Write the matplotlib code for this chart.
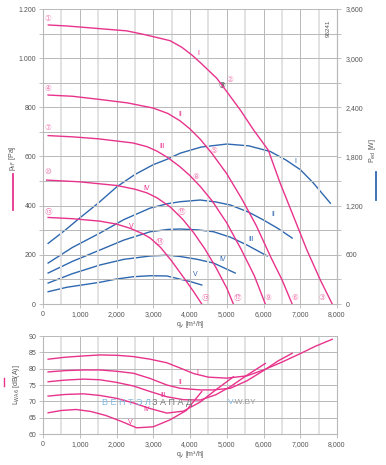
import numpy as np
import matplotlib
matplotlib.use("Agg")
from matplotlib import pyplot as plt

plt.rcParams["font.family"] = ["Liberation Sans", "DejaVu Sans", "Noto Sans CJK JP"]

PINK = "#e8338c"
PINK_LIGHT = "#f080b4"
BLUE = "#2f68b0"
GRID = "#b8b8b8"
GRID_LIGHT = "#e2e2e2"
TXT = "#555555"

# pressure curves p_sF [Pa] vs q_v [m3/h]
q_p1 = [145, 645, 1550, 2280, 2730, 3100, 3460, 3780, 4050, 4280, 4730, 5000, 5370, 5730,
        6130, 6455, 6820, 7180, 7545, 7870]
p_1 = [1135, 1131, 1120, 1111, 1097, 1084, 1071, 1044, 1013, 982, 918, 864, 789, 708,
       626, 491, 355, 220, 98, 0]
q_p2 = [140, 800, 1550, 2300, 3000, 3400, 3730, 4000, 4280, 4600, 5000, 5400, 5800, 6200, 6500, 6780]
p_2 = [850, 845, 832, 818, 797, 775, 745, 712, 670, 612, 530, 430, 320, 190, 100, 0]
q_p3 = [140, 800, 1500, 2450, 2830, 3100, 3400, 3730, 4000, 4280, 4600, 5000, 5400, 5750, 6050]
p_3 = [685, 680, 672, 655, 640, 622, 595, 558, 522, 478, 420, 330, 220, 115, 0]
q_p4 = [100, 1000, 2010, 2500, 2830, 3100, 3460, 3800, 4100, 4400, 4700, 5000, 5180]
p_4 = [504, 497, 482, 467, 452, 432, 395, 345, 290, 225, 150, 65, 0]
q_p5 = [140, 800, 1550, 2000, 2370, 2700, 2920, 3200, 3500, 3840, 4100, 4320]
p_5 = [352, 347, 337, 325, 308, 287, 268, 230, 175, 105, 50, 0]

# power curves P_ed [W]
q_w1 = [140, 600, 1000, 1500, 2010, 2500, 3000, 3370, 3730, 4300, 5000, 5600, 6190, 6600,
        7000, 7360, 7820]
w_1 = [740, 900, 1050, 1230, 1431, 1580, 1700, 1765, 1840, 1915, 1952, 1930, 1860, 1760,
       1640, 1475, 1230]
q_w2 = [140, 800, 1550, 2200, 2920, 3400, 3730, 4280, 4700, 5100, 5600, 6000, 6400, 6780]
w_2 = [500, 690, 866, 1030, 1171, 1225, 1248, 1269, 1245, 1208, 1120, 1025, 920, 805]
q_w3 = [140, 800, 1550, 2200, 2920, 3400, 3730, 4200, 4640, 5100, 5550, 6100]
w_3 = [378, 520, 659, 780, 882, 910, 915, 905, 882, 815, 720, 586]
q_w4 = [140, 800, 1550, 2200, 2920, 3370, 3730, 4200, 4640, 5230]
w_4 = [256, 370, 476, 545, 586, 595, 580, 545, 500, 378]
q_w5 = [140, 645, 1550, 2000, 2460, 2915, 3370, 3730, 4000, 4320]
w_5 = [150, 204, 265, 305, 333, 345, 342, 303, 275, 232]

# sound power L_WA6 [dB(A)]
q_s1 = [140, 600, 1100, 1550, 2010, 2460, 2915, 3370, 3730, 4100, 4500, 5000, 5550, 6000,
        6500, 7000, 7400, 7870]
s_1 = [82.9, 83.5, 83.9, 84.2, 84.1, 83.7, 82.9, 81.8, 80.2, 78.5, 77.4, 77.1, 77.8, 79.6,
       82.0, 84.6, 86.8, 89.0]
q_s2 = [140, 600, 1100, 1550, 2000, 2460, 2915, 3370, 3730, 4280, 4640, 5100, 5550, 6000, 6400, 6780]
s_2 = [79.0, 79.4, 79.6, 79.6, 79.2, 78.6, 77.0, 75.0, 74.0, 73.5, 73.5, 74.0, 76.3, 79.4, 82.4, 84.7]
q_s3 = [140, 600, 1100, 1550, 2000, 2460, 2915, 3370, 3820, 4280, 4700, 5100, 5550, 6050]
s_3 = [76.0, 76.5, 76.8, 76.6, 75.8, 74.7, 73.0, 71.4, 70.5, 70.4, 72.0, 74.5, 78.0, 81.6]
q_s4 = [140, 600, 1100, 1550, 2010, 2460, 2915, 3370, 3820, 4280, 4700, 5180]
s_4 = [71.6, 72.1, 72.3, 71.8, 70.9, 69.5, 67.8, 66.4, 67.0, 69.8, 73.5, 77.5]
q_s5 = [140, 500, 900, 1300, 1700, 2100, 2550, 3000, 3450, 3900, 4320]
s_5 = [66.5, 67.2, 67.5, 66.9, 65.7, 64.0, 61.9, 62.2, 64.3, 67.2, 73.0]

roman = ["I", "II", "III", "IV", "V"]
circled = ["\u2460", "\u2461", "\u2462", "\u2463", "\u2464", "\u2465", "\u2466", "\u2467",
           "\u2468", "\u2469", "\u246a", "\u246b", "\u246c", "\u246d", "\u246e"]

fig = plt.figure(figsize=(3.86, 4.65), dpi=100)
W, H = 386, 465


def box(x0, y0, x1, y1):
    return [x0 / W, 1 - y1 / H, (x1 - x0) / W, (y1 - y0) / H]


def style_grid(ax, ymax, ystep):
    for x in range(500, 8000, 1000):
        ax.axvline(x, color=GRID_LIGHT, lw=1.4, zorder=0)
    for x in range(1000, 8001, 1000):
        ax.axvline(x, color=GRID, lw=0.7, zorder=0)
    for y in np.arange(ystep[0], ymax + 0.01, ystep[1]):
        ax.axhline(y, color=GRID, lw=0.7, zorder=0)
    ax.spines["top"].set_visible(False)
    for s in ["left", "right", "bottom"]:
        ax.spines[s].set_color(GRID)
        ax.spines[s].set_linewidth(0.8)
    ax.tick_params(colors=TXT, labelsize=5, length=3, width=0.6, pad=2)
    ax.tick_params(axis="both", color=GRID)
    ax.set_xlim(0, 8000)
    ax.set_xticks(range(0, 8001, 1000))
    ax.set_xticklabels(["0"] + [f"{v:,}" for v in range(1000, 8001, 1000)])


# ---- top chart
ax = fig.add_axes(box(43, 9, 337, 304))
style_grid(ax, 1200, (100, 100))
ax.set_ylim(0, 1200)
ax.set_yticks(range(0, 1201, 100))
ax.set_yticklabels([f"{v:,}".replace(",", ".") if v % 200 == 0 else "" for v in range(0, 1201, 100)])

ax2 = ax.twinx()
ax2.set_ylim(0, 3600)
ax2.set_yticks(range(0, 3601, 300))
ax2.set_yticklabels([f"{v:,}" if v % 600 == 0 else "" for v in range(0, 3601, 300)])
for s in ["top", "left", "bottom"]:
    ax2.spines[s].set_visible(False)
ax2.spines["right"].set_color(GRID)
ax2.tick_params(colors=TXT, labelsize=5, length=3, width=0.6, pad=3)
ax2.tick_params(axis="y", color=GRID)

for q, w in [(q_w1, w_1), (q_w2, w_2), (q_w3, w_3), (q_w4, w_4), (q_w5, w_5)]:
    ax2.plot(q, w, color=BLUE, lw=1.0, zorder=3, solid_joinstyle="round")
for q, p in [(q_p1, p_1), (q_p2, p_2), (q_p3, p_3), (q_p4, p_4), (q_p5, p_5)]:
    ax.plot(q, p, color=PINK, lw=1.0, zorder=4, solid_joinstyle="round")
ax.set_zorder(ax2.get_zorder() + 1)
ax.patch.set_visible(False)

pink_lab = [(4220, 1021), (3730, 769), (3240, 639), (2830, 468), (2400, 317)]
blue_lab = [(6860, 578), (6270, 366), (5670, 264), (4880, 179), (4140, 122)]
for r, (x, y) in zip(roman, pink_lab):
    ax.text(x, y, r, color=PINK, fontsize=5, ha="center", va="center")
for r, (x, y) in zip(roman, blue_lab):
    ax.text(x, y, r, color=BLUE, fontsize=5, ha="center", va="center")

num_pos = [(140, 1163), (5090, 915), (7600, 28),
           (140, 875), (4660, 626), (6860, 28),
           (140, 716), (4170, 517), (6130, 28),
           (140, 540), (3760, 378), (5285, 28),
           (140, 378), (3160, 256), (4410, 28)]
for c, (x, y) in zip(circled, num_pos):
    ax.text(x, y, c, color=PINK_LIGHT, fontsize=5.5, ha="center", va="center",
            family=["DejaVu Sans", "Noto Sans CJK JP"])
ax.text(4880, 887, "\u2462", color="#333333", fontsize=5.5, ha="center", va="center",
        family=["DejaVu Sans", "Noto Sans CJK JP"])
ax.text(7750, 1120, "96241", color=TXT, fontsize=4.5, rotation=90, ha="center", va="center")
ax.set_xlabel("q$_{\\rm v}$ [m³/h]", fontsize=5, color=TXT, labelpad=1)

fig.text(12 / W, 1 - 158 / H, "p$_{\\rm sF}$ [Pa]", rotation=90, fontsize=5, color=TXT,
         ha="center", va="center")
fig.add_artist(plt.Line2D([13 / W, 13 / W], [1 - 174 / H, 1 - 210 / H], color=PINK, lw=1.3))
fig.text(372 / W, 1 - 150 / H, "P$_{\\rm ed}$ [W]", rotation=90, fontsize=5, color=TXT,
         ha="center", va="center")
fig.add_artist(plt.Line2D([376 / W, 376 / W], [1 - 172 / H, 1 - 200 / H], color=BLUE, lw=1.3))

# ---- bottom chart
bx = fig.add_axes(box(43, 336, 337, 434))
style_grid(bx, 90, (60, 5))
bx.set_ylim(60, 90)
bx.set_yticks(range(60, 91, 5))
for q, s in [(q_s1, s_1), (q_s2, s_2), (q_s3, s_3), (q_s4, s_4), (q_s5, s_5)]:
    bx.plot(q, s, color=PINK, lw=1.0, zorder=4, solid_joinstyle="round")
snd_lab = [(4190, 78.9), (3730, 75.8), (3270, 71.8), (2830, 67.4), (2370, 63.4)]
for r, (x, y) in zip(roman, snd_lab):
    bx.text(x, y, r, color=PINK, fontsize=5, ha="center", va="center")
bx.set_xlabel("q$_{\\rm v}$ [m³/h]", fontsize=5, color=TXT, labelpad=1)
fig.text(17 / W, 1 - 385 / H, "L$_{\\rm WA6}$ [dB(A)]", rotation=90, fontsize=5, color=TXT,
         ha="center", va="center")
fig.add_artist(plt.Line2D([4 / W, 4 / W], [1 - 378 / H, 1 - 386 / H], color=PINK, lw=1.0))

# watermark
fig.text(102 / W, 1 - 402 / H, "В Е Н Т Э Л", color="#7fb7e0", fontsize=6.5, ha="left", va="center")
fig.text(152 / W, 1 - 402 / H, "З А П А Д", color="#777777", fontsize=6.5, ha="left", va="center")
fig.text(228 / W, 1 - 402 / H, "V", color="#7fb7e0", fontsize=6, ha="left", va="center")
fig.text(233 / W, 1 - 402 / H, "-W.BY", color="#999999", fontsize=6, ha="left", va="center")

fig.savefig("out.png", dpi=100)
